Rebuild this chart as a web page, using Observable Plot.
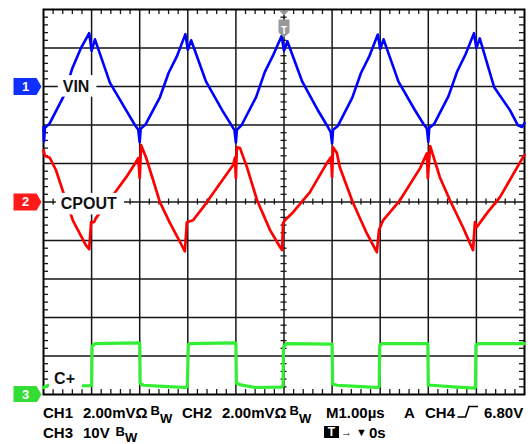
<!DOCTYPE html>
<html><head><meta charset="utf-8">
<script src="https://cdn.jsdelivr.net/npm/d3@7"></script>
<script src="https://cdn.jsdelivr.net/npm/@observablehq/plot@0.6"></script>
<style>
html,body{margin:0;padding:0;background:#fff;}
#wrap{position:relative;width:532px;height:444px;overflow:hidden;font-family:"Liberation Sans",Arial,sans-serif;font-weight:bold;color:#000;}
#wrap svg{display:block;}
.r{position:absolute;white-space:nowrap;font-size:15px;line-height:15px;}
.s{position:absolute;white-space:nowrap;font-size:13px;line-height:13px;}
</style></head><body>
<div id="wrap"><div id="chart"></div>
<div id="readout">
<span class="r" style="left:43px;top:405px">CH1</span>
<span class="r" style="left:83px;top:405px">2.00mVΩ</span>
<span class="s" style="left:150.5px;top:404px">B</span>
<span class="s" style="left:160px;top:411.5px">W</span>
<span class="r" style="left:182px;top:405px">CH2</span>
<span class="r" style="left:222px;top:405px">2.00mVΩ</span>
<span class="s" style="left:289.5px;top:404px">B</span>
<span class="s" style="left:299px;top:411.5px">W</span>
<span class="r" style="left:326px;top:405px">M1.00µs</span>
<span class="r" style="left:404px;top:405px">A</span>
<span class="r" style="left:425px;top:405px">CH4</span>
<svg style="position:absolute;left:457px;top:405px" width="22" height="14"><polyline points="0.5,12 8.5,12 12,1.5 21,1.5" fill="none" stroke="#000" stroke-width="1.6"/></svg>
<span class="r" style="left:484px;top:405px">6.80V</span>
<span class="r" style="left:43px;top:425px">CH3</span>
<span class="r" style="left:83px;top:425px">10V</span>
<span class="s" style="left:115.5px;top:424.5px">B</span>
<span class="s" style="left:125px;top:431px">W</span>
<span style="position:absolute;left:324px;top:426px;width:15px;height:12px;background:#000;color:#fff;font-size:12px;line-height:12px;text-align:center">T</span>
<span style="position:absolute;left:341px;top:427.4px;font-size:11px;line-height:11px">→</span>
<span style="position:absolute;left:356px;top:427.4px;font-size:11px;line-height:11px">▼</span>
<span class="r" style="left:369px;top:425px">0s</span>
</div></div>
<script>
// ---- time axis (µs), trigger at 0 ----
const divisions = [-5,-4,-3,-2,-1,0,1,2,3,4,5];

// ---- CH1 VIN (mV) ----
const vinTime = [-5.00,-4.99,-4.97,-4.88,-4.58,-4.40,-4.23,-4.05,
  -4.00,-3.93,-3.62,-3.28,-3.10,-3.03,-3.00,-2.98,-2.88,-2.58,-2.40,-2.23,-2.05,
  -2.00,-1.93,-1.62,-1.28,-1.10,-1.03,-1.00,-0.98,-0.88,-0.58,-0.40,-0.23,-0.05,
  0.00,0.07,0.38,0.72,0.90,0.97,1.00,1.02,1.12,1.42,1.60,1.77,1.95,
  2.00,2.07,2.38,2.72,2.90,2.97,3.00,3.02,3.12,3.42,3.60,3.77,3.95,
  4.00,4.07,4.37,4.70,4.86,4.95,5.00];
const vinMv = [-2.10,-2.85,-2.15,-1.95,-0.50,0.95,1.95,2.77,
  1.85,2.45,0.20,-1.24,-2.00,-2.25,-2.90,-2.20,-1.98,-0.56,0.70,1.55,2.72,
  1.90,2.40,0.25,-1.25,-1.98,-2.27,-2.92,-2.25,-2.00,-0.55,0.75,1.60,2.62,
  1.85,2.35,0.25,-1.30,-2.05,-2.37,-2.95,-2.25,-2.05,-0.58,0.70,1.55,2.70,
  1.95,2.45,0.25,-1.22,-1.95,-2.18,-2.88,-2.15,-1.95,-0.50,0.78,1.65,2.77,
  1.99,2.50,-0.04,-1.24,-2.01,-2.10,-1.90];

// ---- CH2 CPOUT (mV) ----
const cpoutTime = [-5.00,-4.97,-4.87,-4.74,-4.59,-4.39,-4.12,-4.05,
  -4.01,-3.95,-3.91,-3.51,-3.28,-3.08,-3.03,-3.00,-2.97,-2.87,-2.72,-2.58,-2.37,-2.16,-2.06,
  -2.02,-1.89,-1.68,-1.39,-1.06,-1.02,-1.00,-0.98,-0.915,-0.77,-0.56,-0.29,-0.08,-0.04,
  -0.02,0.02,0.19,0.54,0.89,0.98,1.00,1.02,1.10,1.16,1.43,1.72,1.93,
  1.975,2.06,2.41,2.83,2.97,2.99,3.04,3.24,3.45,3.72,3.93,
  3.97,4.01,4.22,4.49,4.97,5.00];
const cpoutMv = [2.70,2.40,2.30,1.65,0.51,-0.95,-2.24,-2.45,
  -1.05,-1.05,-0.84,0.51,1.29,2.07,2.28,1.25,2.95,2.33,1.13,-0.01,-1.10,-2.09,-2.56,
  -1.05,-0.95,-0.27,0.75,1.91,2.30,1.23,2.84,2.80,1.81,0.09,-1.46,-2.35,-2.50,
  -1.10,-0.95,-0.53,0.51,2.02,2.33,1.29,2.85,2.54,1.81,-0.01,-1.62,-2.61,
  -1.46,-0.95,0.09,1.76,2.53,1.24,2.90,1.29,0.09,-1.31,-2.50,
  -1.05,-1.30,-0.58,0.25,2.33,2.45];

// ---- CH3 C+ (V) ----
const cplusTime = [-5.00,-4.90,-4.50,-4.05,-4.00,
  -3.99,-3.93,-3.03,-3.00,
  -2.99,-2.92,-2.50,-2.05,-2.01,
  -1.99,-1.95,-1.04,-1.00,
  -0.99,-0.90,-0.60,-0.06,-0.02,
  -0.01,0.05,0.97,1.00,
  1.01,1.10,1.70,1.95,1.98,
  1.99,2.03,2.96,2.99,
  3.00,3.07,3.60,3.96,3.98,
  3.99,4.03,5.00];
const cplusV = [1.82,2.40,2.20,2.30,2.40,
  12.55,13.20,13.40,13.30,
  2.86,2.40,2.10,1.82,2.00,
  13.00,13.20,13.40,13.30,
  2.90,2.50,1.82,1.90,2.30,
  12.40,13.20,13.07,13.10,
  2.70,2.40,2.00,1.82,2.10,
  12.80,13.20,13.20,13.20,
  2.40,2.40,1.90,1.64,1.90,
  12.80,13.20,13.20];

// ---- channel settings ----
const channelNames = ["VIN", "CPOUT", "C+"];
const channelNumbers = ["1", "2", "3"];
const channelUnitsPerDiv = [2, 2, 10];
const channelGroundDiv = [3, 0, -5];
const channelColors = ["#0000ff", "#ff0000", "#33ee33"];
const markerColors = ["#1030ff", "#ff1a1a", "#33dd33"];
const labelTime = [-4.60, -4.64, -4.78];
const labelLevel = [3.0, -0.06, -4.60];

const toDiv = (i, v) => v / channelUnitsPerDiv[i] + channelGroundDiv[i];
const vinRows = vinTime.map((t, k) => ({t, div: toDiv(0, vinMv[k])}));
const cpoutRows = cpoutTime.map((t, k) => ({t, div: toDiv(1, cpoutMv[k])}));
const cplusRows = cplusTime.map((t, k) => ({t, div: toDiv(2, cplusV[k])}));
const labelRows = channelNames.map((name, i) => ({name, t: labelTime[i], div: labelLevel[i]}));
const markerRows = channelNumbers.map((n, i) => ({n, div: channelGroundDiv[i], color: markerColors[i]}));

// ---- layout ----
const W = 532, H = 402, mL = 43, mR = 8, mT = 9, mB = 8;
const frameW = W - mL - mR, frameH = H - mT - mB;
const tickLen = 5, crossLen = 3;
const xPerPx = 10 / frameW, yPerPx = 10 / frameH;
const minor = divisions.slice(0, -1).flatMap(d => [0.2, 0.4, 0.6, 0.8].map(k => d + k));
const inner = divisions.slice(1, -1);
const gridColor = "#161616";
const font = "Liberation Sans, Arial, sans-serif";

const arrowSymbol = {draw(c) {
  c.moveTo(0, 0); c.lineTo(-5, -8.5); c.lineTo(-28, -8.5); c.lineTo(-28, 8.5); c.lineTo(-5, 8.5); c.closePath();
}};
const trigSymbol = {draw(c) {
  c.moveTo(-5, 1); c.lineTo(5, 1); c.lineTo(0, 6); c.closePath();
  c.moveTo(-5.5, 10); c.lineTo(5.5, 10); c.lineTo(5.5, 23); c.lineTo(0, 28); c.lineTo(-5.5, 23); c.closePath();
}};

const svg = Plot.plot({
  width: W, height: H,
  marginLeft: mL, marginRight: mR, marginTop: mT, marginBottom: mB,
  x: {domain: [-5, 5], axis: null},
  y: {domain: [-5, 5], axis: null},
  marks: [
    Plot.ruleX(inner, {stroke: gridColor, strokeWidth: 1.5}),
    Plot.ruleY(inner, {stroke: gridColor, strokeWidth: 1.5}),
    Plot.ruleX(minor, {insetBottom: frameH - tickLen, stroke: gridColor, strokeWidth: 1.3}),
    Plot.ruleX(minor, {insetTop: frameH - tickLen, stroke: gridColor, strokeWidth: 1.3}),
    Plot.ruleY(minor, {insetRight: frameW - tickLen, stroke: gridColor, strokeWidth: 1.3}),
    Plot.ruleY(minor, {insetLeft: frameW - tickLen, stroke: gridColor, strokeWidth: 1.3}),
    Plot.ruleX(minor, {y1: -crossLen * yPerPx, y2: crossLen * yPerPx, stroke: gridColor, strokeWidth: 1.3}),
    Plot.ruleY(minor, {x1: -crossLen * xPerPx, x2: crossLen * xPerPx, stroke: gridColor, strokeWidth: 1.3}),
    Plot.frame({stroke: "#000", strokeWidth: 2}),
    Plot.line(cplusRows, {x: "t", y: "div", stroke: channelColors[2], strokeWidth: 3.2, strokeLinejoin: "round"}),
    Plot.line(cpoutRows, {x: "t", y: "div", stroke: channelColors[1], strokeWidth: 2.7, strokeLinejoin: "round"}),
    Plot.line(vinRows, {x: "t", y: "div", stroke: channelColors[0], strokeWidth: 2.6, strokeLinejoin: "round"}),
    Plot.text(labelRows, {x: "t", y: "div", text: "name", textAnchor: "start", fontSize: 16, fontWeight: "bold", fontFamily: font, fill: "#111", ariaLabel: "trace label"}),
    Plot.dot(markerRows, {x: () => -5, y: "div", dx: -2, symbol: arrowSymbol, fill: "color", r: 5}),
    Plot.text(markerRows, {x: () => -5, y: "div", dx: -18, text: "n", fill: "#fff", fontSize: 13, fontWeight: "bold", fontFamily: font}),
    Plot.dot([0], {x: d => d, frameAnchor: "top", symbol: trigSymbol, fill: "#999", r: 5}),
    Plot.text([0], {x: d => d, frameAnchor: "top", dy: 17, text: () => "T", fill: "#fff", fontSize: 10, fontWeight: "bold", fontFamily: font})
  ]
});
document.getElementById("chart").appendChild(svg);

// white boxes behind the trace labels
const ns = "http://www.w3.org/2000/svg";
svg.querySelectorAll("text").forEach(t => {
  if (!channelNames.includes(t.textContent)) return;
  const b = t.getBBox();
  const r = document.createElementNS(ns, "rect");
  r.setAttribute("x", b.x - 5);
  r.setAttribute("y", b.y - 2.5);
  r.setAttribute("width", b.width + 12);
  r.setAttribute("height", b.height + 4.5);
  r.setAttribute("fill", "#fff");
  const tr = t.getAttribute("transform");
  if (tr) r.setAttribute("transform", tr);
  t.parentNode.insertBefore(r, t);
});
</script>
</body></html>
